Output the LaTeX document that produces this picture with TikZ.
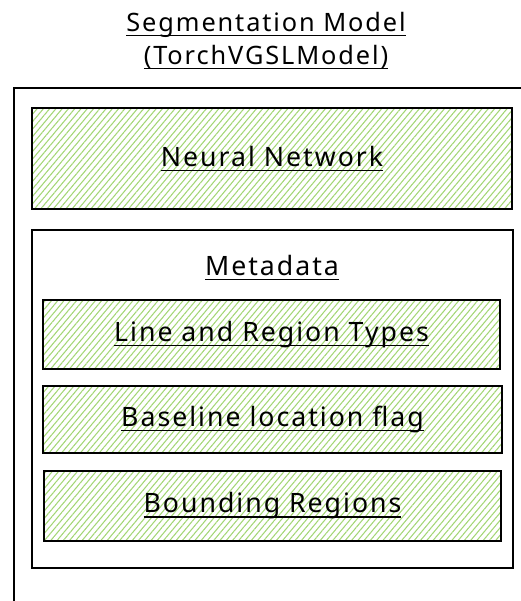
\documentclass[tikz,border=0pt]{standalone}
\usepackage{fontspec}
\setmainfont{Noto Sans}[LetterSpace=7.5]
\usetikzlibrary{positioning,patterns.meta}
\definecolor{Sketch}{HTML}{A3D675}
\newcommand{\handline}[1]{\setbox0\hbox{#1}\rlap{\rule[-3.5pt]{\wd0}{1.1pt}}\box0}

\begin{document}
\begin{tikzpicture}[x=0.75pt,y=-0.75pt,
  box/.style={draw,line width=1.3pt,inner sep=0pt},
  hatched/.style={box,pattern={Lines[angle=50,distance=3.6pt,line width=.8pt]},pattern color=Sketch},
  script/.style={font=\fontsize{20}{24}\selectfont}]
  \useasboundingbox (0,0) rectangle (521,601);
  \clip (0,0) rectangle (521,601);
  \node[box,minimum width=400pt,minimum height=420pt,anchor=north west] (model) at (13,87) {};
  \node[align=center,font=\fontsize{19}{24.75}\selectfont] (title) at (266,41)
    {\handline{Segmentation Model}\\\handline{(TorchVGSLModel)}};
  \node[hatched,script,minimum width=360pt,minimum height=75.75pt] (nn) at (272,158.5) {\handline{Neural Network}};
  \node[box,minimum width=360.75pt,minimum height=253.5pt] (meta) at (272.5,399) {};
  \node[script] (metalabel) at (272,268) {\handline{Metadata}};
  \node[hatched,script,minimum width=342.75pt,minimum height=51.75pt] (types) at (271.5,334.5) {\handline{Line and Region Types}};
  \node[hatched,script,minimum width=344.25pt,minimum height=50.25pt] (flag) at (272.5,419.5) {\handline{Baseline location flag}};
  \node[hatched,script,minimum width=342.75pt,minimum height=52.5pt] (regions) at (272.5,506) {\handline{Bounding Regions}};
\end{tikzpicture}
\end{document}
